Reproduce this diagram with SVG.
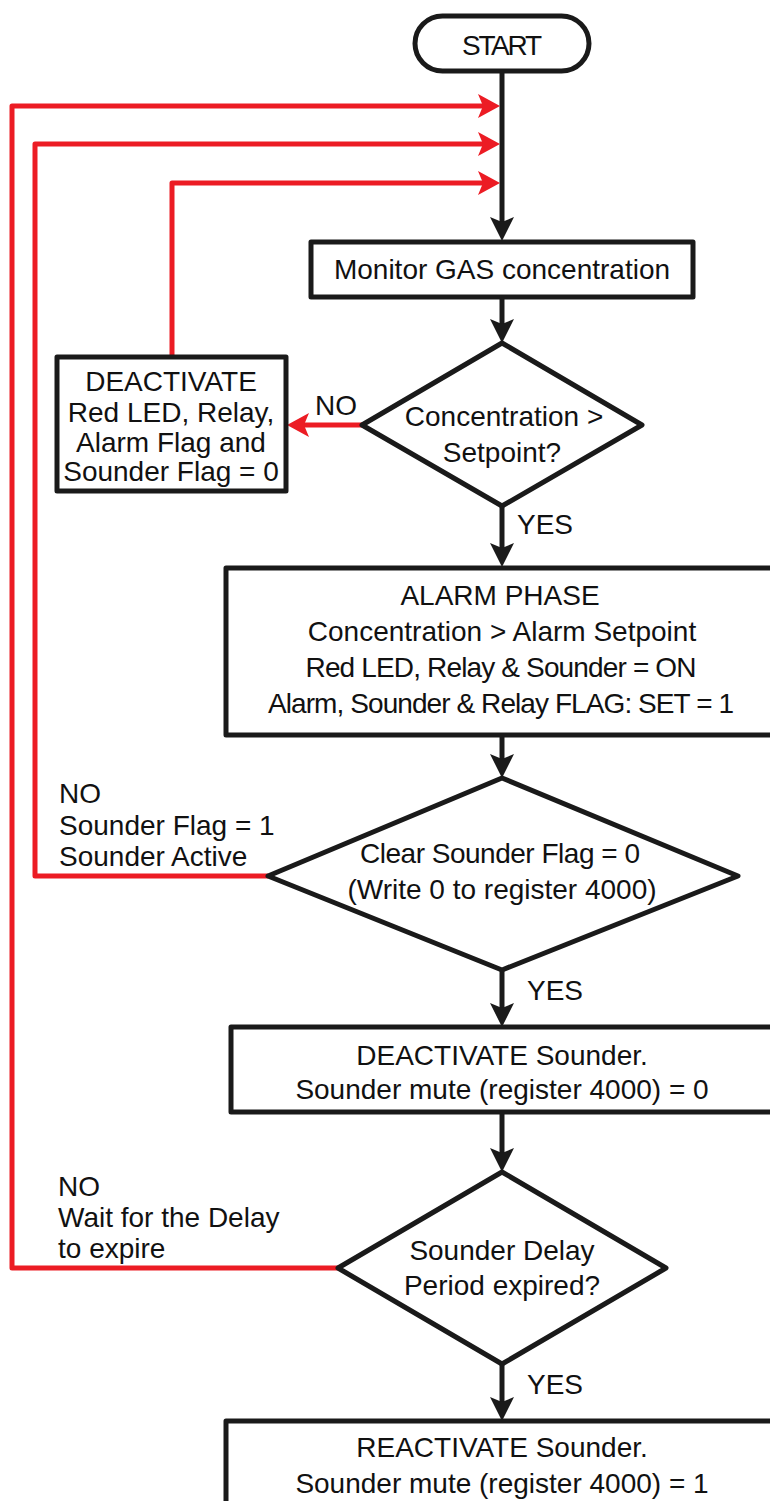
<svg xmlns="http://www.w3.org/2000/svg" width="770" height="1501" viewBox="0 0 770 1501">
<defs>
<style>
.box{fill:#fff;stroke:#1a1a1a;stroke-width:5;stroke-linejoin:round}
.t{font-family:"Liberation Sans",Arial,sans-serif;font-size:28px;fill:#111;text-anchor:middle}
.l{font-family:"Liberation Sans",Arial,sans-serif;font-size:28px;fill:#111;text-anchor:start}
.blk{fill:none;stroke:#1a1a1a;stroke-width:5}
.red{fill:none;stroke:#ec1c24;stroke-width:5;stroke-linejoin:round}
</style>
<marker id="ab" markerUnits="userSpaceOnUse" viewBox="0 0 24 24" refX="14" refY="12" markerWidth="24" markerHeight="24" orient="auto">
<path d="M0,0 L24,12 L0,24 L5,12 Z" fill="#1a1a1a"/>
</marker>
<marker id="ar" markerUnits="userSpaceOnUse" viewBox="0 0 22 24" refX="12" refY="12" markerWidth="22" markerHeight="24" orient="auto">
<path d="M0,0 L22,12 L0,24 L5,12 Z" fill="#ec1c24"/>
</marker>
</defs>
<rect width="770" height="1501" fill="#fff"/>
<g id="connectors">
<path class="blk" d="M502,71 V231" marker-end="url(#ab)"/>
<path class="blk" d="M502,297 V333" marker-end="url(#ab)"/>
<path class="blk" d="M502,506 V557" marker-end="url(#ab)"/>
<path class="blk" d="M502,735 V768" marker-end="url(#ab)"/>
<path class="blk" d="M502,970 V1017" marker-end="url(#ab)"/>
<path class="blk" d="M502,1112 V1162" marker-end="url(#ab)"/>
<path class="blk" d="M502,1364 V1411" marker-end="url(#ab)"/>
<path class="red" d="M338,1268 H12 V106 H490" marker-end="url(#ar)"/>
<path class="red" d="M268,876 H35 V144 H490" marker-end="url(#ar)"/>
<path class="red" d="M172,357 V183 H490" marker-end="url(#ar)"/>
<path class="red" d="M362,425 H297" marker-end="url(#ar)"/>
<text class="t" x="336" y="415">NO</text>
<text class="l" x="517" y="534">YES</text>
<text class="l" x="527" y="1000">YES</text>
<text class="l" x="527" y="1394">YES</text>
<text class="l" x="59" y="803">NO</text>
<text class="l" x="59" y="835">Sounder Flag = 1</text>
<text class="l" x="59" y="866">Sounder Active</text>
<text class="l" x="58" y="1196">NO</text>
<text class="l" x="58" y="1227">Wait for the Delay</text>
<text class="l" x="58" y="1258">to expire</text>
</g>
<g id="start">
<rect class="box" x="415" y="16" width="174" height="55" rx="27.5"/>
<text class="t" x="502" y="55" textLength="80">START</text>
</g>
<g id="monitor">
<rect class="box" x="311" y="242" width="382" height="55"/>
<text class="t" x="502" y="279">Monitor GAS concentration</text>
</g>
<g id="decision1">
<polygon class="box" points="502,343 642,425 502,506 362,425"/>
<text class="t" x="504" y="426">Concentration &gt;</text>
<text class="t" x="502" y="462">Setpoint?</text>
</g>
<g id="deactivate1">
<rect class="box" x="57" y="357" width="229" height="134"/>
<text class="t" x="171" y="391">DEACTIVATE</text>
<text class="t" x="171" y="422">Red LED, Relay,</text>
<text class="t" x="171" y="452">Alarm Flag and</text>
<text class="t" x="171" y="481">Sounder Flag = 0</text>
</g>
<g id="alarm">
<rect class="box" x="226" y="568" width="560" height="167"/>
<text class="t" x="500" y="605">ALARM PHASE</text>
<text class="t" x="502" y="641">Concentration &gt; Alarm Setpoint</text>
<text class="t" x="501" y="677" textLength="391">Red LED, Relay &amp; Sounder = ON</text>
<text class="t" x="501" y="713" textLength="466">Alarm, Sounder &amp; Relay FLAG: SET = 1</text>
</g>
<g id="decision2">
<polygon class="box" points="502,778 738,876 502,970 268,876"/>
<text class="t" x="500" y="863" textLength="280">Clear Sounder Flag = 0</text>
<text class="t" x="502" y="899">(Write 0 to register 4000)</text>
</g>
<g id="deactivate2">
<rect class="box" x="231" y="1027" width="560" height="85"/>
<text class="t" x="502" y="1065">DEACTIVATE Sounder.</text>
<text class="t" x="502" y="1099">Sounder mute (register 4000) = 0</text>
</g>
<g id="decision3">
<polygon class="box" points="502,1172 666,1268 502,1364 338,1268"/>
<text class="t" x="502" y="1260">Sounder Delay</text>
<text class="t" x="502" y="1295">Period expired?</text>
</g>
<g id="reactivate">
<rect class="box" x="226" y="1421" width="560" height="100"/>
<text class="t" x="502" y="1457">REACTIVATE Sounder.</text>
<text class="t" x="502" y="1493">Sounder mute (register 4000) = 1</text>
</g>
</svg>
